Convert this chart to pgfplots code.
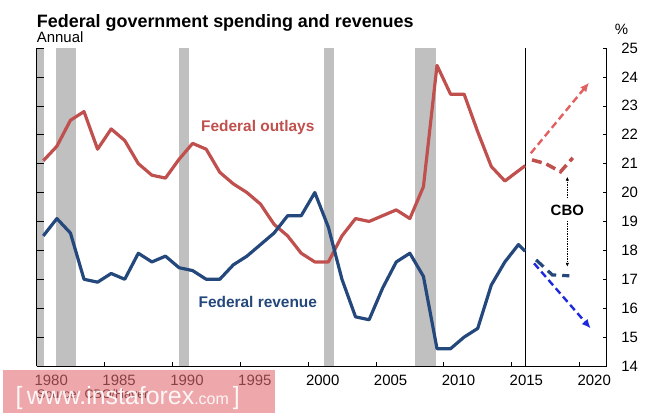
\documentclass[border=0pt]{standalone}
\usepackage{fontspec}
\setmainfont{Liberation Sans}
\usepackage{pgfplots}
\pgfplotsset{compat=1.18}
\usetikzlibrary{arrows.meta}
\definecolor{outl}{RGB}{192,80,77}
\definecolor{reve}{RGB}{36,72,124}
\definecolor{rec}{RGB}{192,192,192}
\definecolor{redarr}{RGB}{226,96,96}
\definecolor{bluearr}{RGB}{30,40,220}
\definecolor{wm}{RGB}{226,110,115}
\pgfplotstableread{
year val
1980.5 21.1
1981.5 21.6
1982.5 22.5
1983.5 22.8
1984.5 21.5
1985.5 22.2
1986.5 21.8
1987.5 21.0
1988.5 20.6
1989.5 20.5
1990.5 21.15
1991.5 21.7
1992.5 21.5
1993.5 20.7
1994.5 20.3
1995.5 20.0
1996.5 19.6
1997.5 18.9
1998.5 18.5
1999.5 17.9
2000.5 17.6
2001.5 17.6
2002.5 18.5
2003.5 19.1
2004.5 19.0
2005.5 19.2
2006.5 19.4
2007.5 19.1
2008.5 20.2
2009.5 24.4
2010.5 23.4
2011.5 23.4
2012.5 22.1
2013.5 20.9
2014.5 20.4
2016.0 20.93
}\outlays
\pgfplotstableread{
year val
1980.5 18.5
1981.5 19.1
1982.5 18.6
1983.5 17.0
1984.5 16.9
1985.5 17.2
1986.5 17.0
1987.5 17.9
1988.5 17.6
1989.5 17.8
1990.5 17.4
1991.5 17.3
1992.5 17.0
1993.5 17.0
1994.5 17.5
1995.5 17.8
1996.5 18.2
1997.5 18.6
1998.5 19.2
1999.5 19.2
2000.5 20.0
2001.5 18.8
2002.5 17.0
2003.5 15.7
2004.5 15.6
2005.5 16.7
2006.5 17.6
2007.5 17.9
2008.5 17.1
2009.5 14.6
2010.5 14.6
2011.5 15.0
2012.5 15.3
2013.5 16.8
2014.5 17.6
2015.5 18.2
2016.0 17.97
}\revenue
\begin{document}
\begin{tikzpicture}
\useasboundingbox (-36.5bp,-50bp) rectangle (628.5bp,366bp);
\begin{axis}[
  at={(0,0)}, anchor=south west,
  scale only axis, width=570.2bp, height=318bp,
  xmin=1980, xmax=2022, ymin=14, ymax=25,
  axis x line=bottom, axis y line=right,
  axis line style={-, black, line width=0.8bp},
  axis on top,
  xtick={1980,1985,...,2020},
  ytick={14,...,25},
  tick align=inside,
  major tick length=4bp,
  tick style={black, line width=0.6bp},
  /pgf/number format/assume math mode=true,
  /pgf/number format/1000 sep={},
  xticklabel style={font=\fontsize{15}{18}\selectfont, anchor=base, inner sep=0pt, yshift=-19bp, xshift=14.7bp},
  yticklabel style={font=\fontsize{15}{18}\selectfont, anchor=west, inner sep=0pt, xshift=14.5bp},
  clip=false,
]
% recession bars
\addplot[fill=rec, draw=none] coordinates {(1980,14)(1980,25)(1980.57,25)(1980.57,14)} -- cycle;
\addplot[fill=rec, draw=none] coordinates {(1981.43,14)(1981.43,25)(1982.9,25)(1982.9,14)} -- cycle;
\addplot[fill=rec, draw=none] coordinates {(1990.5,14)(1990.5,25)(1991.24,25)(1991.24,14)} -- cycle;
\addplot[fill=rec, draw=none] coordinates {(2001.16,14)(2001.16,25)(2001.9,25)(2001.9,14)} -- cycle;
\addplot[fill=rec, draw=none] coordinates {(2007.88,14)(2007.88,25)(2009.45,25)(2009.45,14)} -- cycle;
% 2015 divider
\addplot[black, line width=0.7bp] coordinates {(2016,14)(2016,25)};
% series
\addplot[outl, line width=3.2bp, line join=round] table[x=year,y=val] {\outlays};
\addplot[reve, line width=3.2bp, line join=round] table[x=year,y=val] {\revenue};
% CBO projections
\addplot[outl, line width=3.5bp, dash pattern=on 10bp off 5bp] coordinates {(2016.5,21.13)(2017.5,21.0)(2018.6,20.72)(2019.5,21.2)};
\addplot[reve, line width=3.2bp, dash pattern=on 10bp off 6bp] coordinates {(2016.8,17.67)(2018,17.15)(2019.25,17.12)};
% scenario arrows
\addplot[redarr, line width=2.4bp, dash pattern=on 7bp off 4bp, -{Latex[length=9bp,width=8bp]}] coordinates {(2016.41,21.36)(2020.7,23.8)};
\addplot[bluearr, line width=2.4bp, dash pattern=on 7bp off 4bp, -{Latex[length=9bp,width=8bp]}] coordinates {(2016.65,17.55)(2020.82,15.3)};
% CBO pointers
\addplot[black, line width=0.8bp, dash pattern=on 1.5bp off 1bp, -{Latex[length=4bp,width=3.5bp]}] coordinates {(2019.1,19.8)(2019.1,20.55)};
\addplot[black, line width=0.8bp, dash pattern=on 1.5bp off 1bp, -{Latex[length=4bp,width=3.5bp]}] coordinates {(2019.1,19.02)(2019.1,17.43)};
\node[font=\bfseries\fontsize{15}{18}\selectfont, anchor=base] at (axis cs:2019.1,19.22) {CBO};
\node[outl, font=\bfseries\fontsize{15.5}{18}\selectfont, anchor=base] at (axis cs:1996.3,22.1) {Federal outlays};
\node[reve, font=\bfseries\fontsize{15.5}{18}\selectfont, anchor=base] at (axis cs:1996.3,16.03) {Federal revenue};
\end{axis}
\begin{axis}[
  at={(0,0)}, anchor=south west,
  scale only axis, width=570.2bp, height=318bp,
  xmin=1980, xmax=2022, ymin=14, ymax=25,
  axis x line=none, axis y line=left,
  axis line style={-, black, line width=0.8bp},
  axis on top,
  ytick={14,...,25}, yticklabels={}, xtick=\empty,
  tick align=inside, major tick length=8bp,
  tick style={black, line width=0.6bp},
]
\end{axis}
\node[anchor=base west, inner sep=0pt, font=\bfseries\fontsize{18}{21}\selectfont] at (0.2bp,338.7bp) {Federal government spending and revenues};
\node[anchor=base west, inner sep=0pt, font=\fontsize{15}{18}\selectfont] at (0.2bp,323.7bp) {Annual};
\node[anchor=base, inner sep=0pt, font=\fontsize{15}{18}\selectfont] at (585bp,331.7bp) {\%};
\node[anchor=base west, inner sep=0pt, font=\fontsize{12.5}{15}\selectfont] at (0.5bp,-32bp) {Source: CBO/Haver};
% watermark
\fill[wm, opacity=0.6] (-33.5bp,-47bp) rectangle (238.5bp,-4bp);
\node[white, anchor=base west, inner sep=0pt, font=\fontsize{25}{28}\selectfont, opacity=0.9] at (-21bp,-38bp) {[\,www.instaforex{\fontsize{16}{19}\selectfont.com}\,]};
\end{tikzpicture}
\end{document}
